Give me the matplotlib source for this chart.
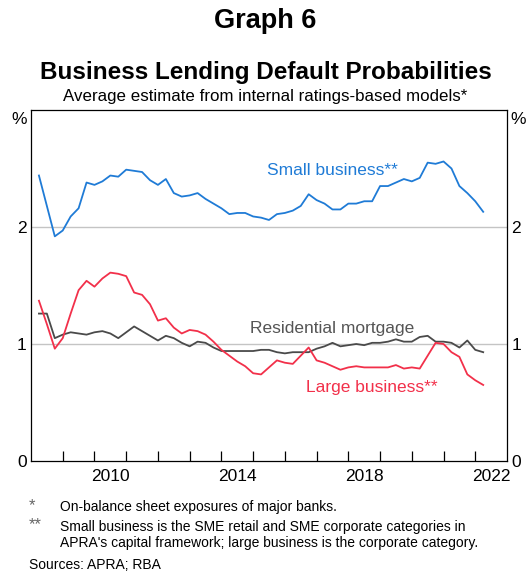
import numpy as np
import matplotlib
matplotlib.use("Agg")
import matplotlib.pyplot as plt

plt.rcParams['font.family'] = ['Liberation Sans', 'DejaVu Sans']

# quarterly observations, March 2008 to March 2022 (plotted at quarter ends)
quarters = 2008.25 + 0.25 * np.arange(57)

small_business = [
    2.44, 2.18, 1.92, 1.97, 2.09, 2.16, 2.38, 2.36, 2.39, 2.44,
    2.43, 2.49, 2.48, 2.47, 2.40, 2.36, 2.41, 2.29, 2.26, 2.27,
    2.29, 2.24, 2.20, 2.16, 2.11, 2.12, 2.12, 2.09, 2.08, 2.06,
    2.11, 2.12, 2.14, 2.18, 2.28, 2.23, 2.20, 2.15, 2.15, 2.20,
    2.20, 2.22, 2.22, 2.35, 2.35, 2.38, 2.41, 2.39, 2.42, 2.55,
    2.54, 2.56, 2.50, 2.35, 2.29, 2.22, 2.13,
]
large_business = [
    1.37, 1.17, 0.96, 1.05, 1.26, 1.46, 1.54, 1.49, 1.56, 1.61,
    1.60, 1.58, 1.44, 1.42, 1.34, 1.20, 1.22, 1.14, 1.09, 1.12,
    1.11, 1.08, 1.02, 0.95, 0.90, 0.85, 0.81, 0.75, 0.74, 0.80,
    0.86, 0.84, 0.83, 0.90, 0.97, 0.86, 0.84, 0.81, 0.78, 0.80,
    0.81, 0.80, 0.80, 0.80, 0.80, 0.82, 0.79, 0.80, 0.79, 0.90,
    1.01, 1.00, 0.93, 0.89, 0.74, 0.69, 0.65,
]
residential = [
    1.26, 1.26, 1.05, 1.08, 1.10, 1.09, 1.08, 1.10, 1.11, 1.09,
    1.05, 1.10, 1.15, 1.11, 1.07, 1.03, 1.07, 1.05, 1.01, 0.98,
    1.02, 1.01, 0.97, 0.94, 0.94, 0.94, 0.94, 0.94, 0.95, 0.95,
    0.93, 0.92, 0.93, 0.93, 0.93, 0.96, 0.98, 1.01, 0.98, 0.99,
    1.00, 0.99, 1.01, 1.01, 1.02, 1.04, 1.02, 1.02, 1.06, 1.07,
    1.02, 1.02, 1.01, 0.97, 1.03, 0.95, 0.93,
]

year_labels = [2010, 2014, 2018, 2022]
y_ticks = [0, 1, 2]

blue = '#1f7bd6'
red = '#f2304a'
grey = '#4a4a4a'

fig = plt.figure(figsize=(5.31, 5.72), dpi=100)
ax = fig.add_axes([31 / 531, 1 - 461 / 572, 476 / 531, 351 / 572])

ax.set_xlim(2008, 2023)
ax.set_ylim(0, 3)

for g in [1, 2]:
    ax.axhline(g, color='#c4c4c4', lw=1.0, zorder=1)

ax.plot(quarters, residential, color=grey, lw=1.3, zorder=3)
ax.plot(quarters, large_business, color=red, lw=1.3, zorder=4)
ax.plot(quarters, small_business, color=blue, lw=1.3, zorder=4)

for sp in ax.spines.values():
    sp.set_color('black')
    sp.set_linewidth(0.9)

# year boundary ticks, labels centred on the year
ax.set_xticks(np.arange(2009, 2023))
ax.set_xticklabels([])
ax.tick_params(axis='x', which='major', direction='in', length=7, width=0.9, color='black')
ax.set_xticks([y + 0.5 for y in year_labels], minor=True)
ax.set_xticklabels([str(y) for y in year_labels], minor=True)
ax.tick_params(axis='x', which='minor', length=0, pad=6, labelsize=12.5)

ax.set_yticks(y_ticks)
ax.set_yticklabels([str(v) for v in y_ticks])
ax.tick_params(axis='y', length=0, pad=3, labelsize=12.5,
               left=True, right=True, labelleft=True, labelright=True)

ax.text(-0.008, 0.995, '%', transform=ax.transAxes, ha='right', va='top', fontsize=12.5)
ax.text(1.008, 0.995, '%', transform=ax.transAxes, ha='left', va='top', fontsize=12.5)

ax.text(2015.43, 2.48, 'Small business**', color=blue, fontsize=12.5, va='center')
ax.text(2014.9, 1.13, 'Residential mortgage', color='#555555', fontsize=12.5, va='center')
ax.text(2016.68, 0.63, 'Large business**', color=red, fontsize=12.5, va='center')

fig.text(0.5, 1 - 21 / 572, 'Graph 6', ha='center', va='center', fontsize=19.5, fontweight='bold')
fig.text(0.5, 1 - 72 / 572, 'Business Lending Default Probabilities', ha='center', va='center',
         fontsize=17.5, fontweight='bold')
fig.text(0.5, 1 - 97 / 572, 'Average estimate from internal ratings-based models*', ha='center',
         va='center', fontsize=12.2)

fs = 10
fig.text(29 / 531, 1 - 506 / 572, '*', ha='left', va='center', fontsize=12, color='#666666')
fig.text(60 / 531, 1 - 507 / 572, 'On-balance sheet exposures of major banks.', ha='left',
         va='center', fontsize=fs)
fig.text(29 / 531, 1 - 525 / 572, '**', ha='left', va='center', fontsize=12, color='#666666')
fig.text(60 / 531, 1 - 527 / 572, 'Small business is the SME retail and SME corporate categories in',
         ha='left', va='center', fontsize=fs)
fig.text(60 / 531, 1 - 543.5 / 572,
         "APRA's capital framework; large business is the corporate category.",
         ha='left', va='center', fontsize=fs)
fig.text(29 / 531, 1 - 565 / 572, 'Sources: APRA; RBA', ha='left', va='center', fontsize=fs)

fig.savefig('out.png', dpi=100)
